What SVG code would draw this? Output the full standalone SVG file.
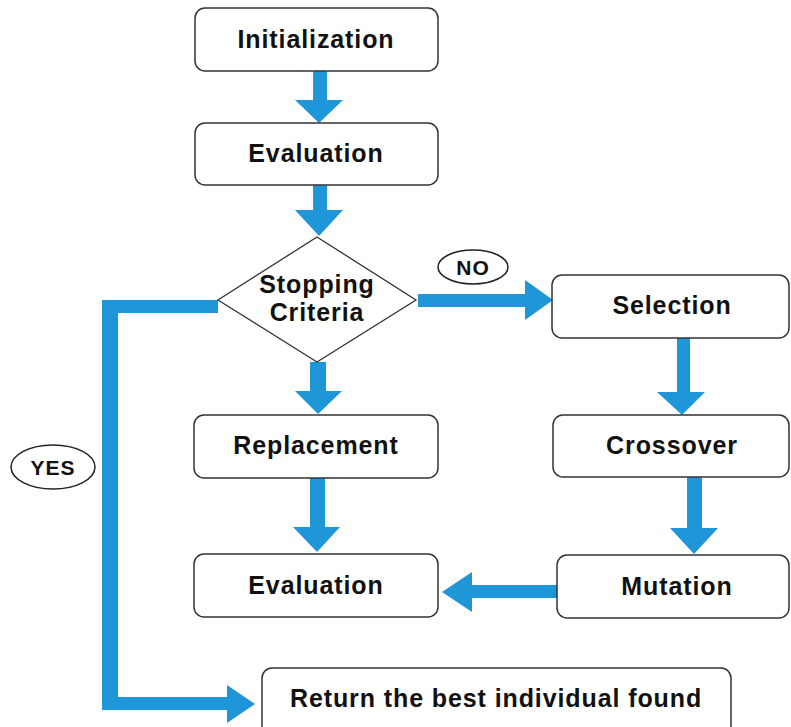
<svg xmlns="http://www.w3.org/2000/svg" width="791" height="727" viewBox="0 0 791 727">
<style>
.box{fill:#fff;stroke:#333;stroke-width:1.5}
.lbl{font-family:"Liberation Sans",Arial,sans-serif;font-weight:bold;font-size:25px;letter-spacing:0.9px;fill:#111;text-anchor:middle}
.sm{font-size:21px;letter-spacing:1px}
.arr{fill:#1f96d8}
.oval{fill:#fff;stroke:#222;stroke-width:1.5}
</style>
<rect width="791" height="727" fill="#fff"/>
<g id="connectors">
<polygon class="arr" points="313,71 327,71 327,100 343,100 319,123 295,100 313,100"/>
<polygon class="arr" points="313,185 327,185 327,210 343,210 319,236 295,210 313,210"/>
<polygon class="arr" points="310,362 326,362 326,391 342,391 318,414 295,391 310,391"/>
<polygon class="arr" points="310,478 325,478 325,527 340,527 317,552 293,527 310,527"/>
<polygon class="arr" points="418,294 525,294 525,280 553,300 525,320 525,307 418,307"/>
<polygon class="arr" points="677,338 690,338 690,392 705,392 682,415 657,392 677,392"/>
<polygon class="arr" points="687,477 702,477 702,528 718,528 694,554 670,528 687,528"/>
<polygon class="arr" points="557,585 557,598 472,598 472,612 442,592 472,572 472,585"/>
<polygon class="arr" points="218,300 102,300 102,710 227,710 227,723 255,704 227,685 227,697 118,697 118,313 218,313"/>
</g>
<g id="label-no">
<ellipse class="oval" cx="473" cy="267" rx="35" ry="17"/>
<text class="lbl sm" x="473" y="275">NO</text>
</g>
<g id="label-yes">
<ellipse class="oval" cx="53" cy="467" rx="42" ry="22"/>
<text class="lbl sm" x="53" y="475">YES</text>
</g>
<g id="initialization">
<rect class="box" x="195" y="8" width="243" height="63" rx="10"/>
<text class="lbl" x="316" y="48">Initialization</text>
</g>
<g id="evaluation1">
<rect class="box" x="195" y="123" width="243" height="62" rx="10"/>
<text class="lbl" x="316" y="162">Evaluation</text>
</g>
<g id="stopping">
<polygon points="317,237 416,300 317,362 218,300" fill="#fff" stroke="#333" stroke-width="1.3"/>
<text class="lbl" x="317" y="293">Stopping</text>
<text class="lbl" x="317" y="321">Criteria</text>
</g>
<g id="selection">
<rect class="box" x="552" y="275" width="237" height="63" rx="10"/>
<text class="lbl" x="672" y="314">Selection</text>
</g>
<g id="crossover">
<rect class="box" x="553" y="415" width="236" height="62" rx="10"/>
<text class="lbl" x="672" y="454">Crossover</text>
</g>
<g id="mutation">
<rect class="box" x="557" y="555" width="232" height="63" rx="10"/>
<text class="lbl" x="677" y="595">Mutation</text>
</g>
<g id="replacement">
<rect class="box" x="194" y="415" width="244" height="63" rx="10"/>
<text class="lbl" x="316" y="454">Replacement</text>
</g>
<g id="evaluation2">
<rect class="box" x="194" y="554" width="244" height="63" rx="10"/>
<text class="lbl" x="316" y="594">Evaluation</text>
</g>
<g id="return">
<rect class="box" x="262" y="668" width="469" height="80" rx="10"/>
<text class="lbl" x="496" y="707">Return the best individual found</text>
</g>
</svg>
